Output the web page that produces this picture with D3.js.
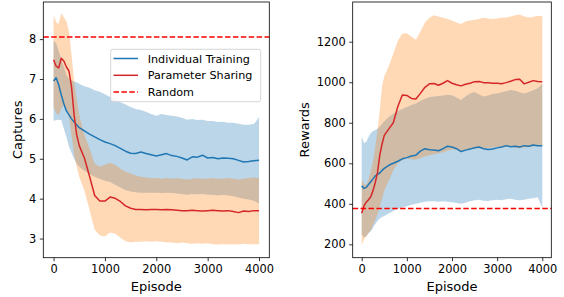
<!DOCTYPE html>
<html>
<head>
<meta charset="utf-8">
<script src="https://cdn.jsdelivr.net/npm/d3@7"></script>
<style>
  body { margin: 0; background: #fff; }
  svg { display: block; font-family: "DejaVu Sans", sans-serif; }
</style>
</head>
<body>
<div id="chart"></div>
<script>
// episodes sampled along the x axis (shared by both panels)
var episodes = [0, 50, 100, 150, 200, 250, 300, 350, 400, 450, 500,
  600, 700, 800, 900, 1000, 1100, 1200, 1300, 1400, 1500, 1600, 1700, 1800, 1900, 2000,
  2100, 2200, 2300, 2400, 2500, 2600, 2700, 2800, 2900, 3000,
  3100, 3200, 3300, 3400, 3500, 3600, 3700, 3800, 3900, 4000];

// left panel: captures
var capIndMean = [6.95, 7.03, 6.85, 6.6, 6.38, 6.2, 6.1, 6.0, 5.92, 5.85, 5.78,
  5.7, 5.62, 5.55, 5.48, 5.42, 5.38, 5.33, 5.26, 5.19, 5.14, 5.13, 5.17, 5.13, 5.1, 5.07,
  5.1, 5.13, 5.08, 5.06, 5.02, 4.97, 5.05, 5.04, 5.09, 5.02,
  5.03, 5.0, 5.02, 5.01, 5.0, 4.96, 4.92, 4.93, 4.95, 4.96];
var capIndUpper = [7.95, 7.9, 7.7, 7.5, 7.3, 7.1, 7.0, 6.96, 6.94, 6.92, 6.88,
  6.82, 6.78, 6.72, 6.68, 6.62, 6.55, 6.5, 6.42, 6.36, 6.3, 6.25, 6.22, 6.18, 6.12, 6.08,
  6.12, 6.1, 6.08, 6.06, 6.03, 5.98, 6.0, 5.97, 5.98, 5.95,
  5.95, 5.92, 5.93, 5.9, 5.9, 5.88, 5.85, 5.85, 5.87, 6.04];
var capIndLower = [5.95, 5.97, 5.98, 5.97, 5.75, 5.55, 5.31, 5.15, 5.0, 4.88, 4.8,
  4.7, 4.62, 4.55, 4.5, 4.45, 4.42, 4.35, 4.28, 4.22, 4.18, 4.16, 4.15, 4.15, 4.15, 4.15,
  4.14, 4.15, 4.14, 4.13, 4.12, 4.1, 4.12, 4.11, 4.12, 4.1,
  4.1, 4.08, 4.1, 4.08, 4.06, 4.03, 4.0, 3.98, 3.95, 3.88];
var capShareMean = [7.48, 7.32, 7.28, 7.52, 7.45, 7.3, 7.2, 6.8, 6.1, 5.6, 5.33,
  5.02, 4.56, 4.08, 3.94, 3.94, 4.04, 4.01, 3.93, 3.82, 3.76, 3.73, 3.73, 3.72, 3.73, 3.73,
  3.72, 3.73, 3.72, 3.71, 3.7, 3.7, 3.71, 3.7, 3.69, 3.7,
  3.71, 3.7, 3.69, 3.7, 3.68, 3.65, 3.69, 3.68, 3.7, 3.7];
var capShareUpper = [8.6, 8.42, 8.38, 8.65, 8.55, 8.45, 8.2, 7.6, 6.95, 6.5, 6.1,
  5.6, 5.25, 4.88, 4.8, 4.85, 4.9, 4.85, 4.75, 4.68, 4.63, 4.58, 4.55, 4.53, 4.52, 4.52,
  4.5, 4.52, 4.5, 4.51, 4.5, 4.48, 4.5, 4.51, 4.5, 4.5,
  4.52, 4.5, 4.5, 4.52, 4.5, 4.48, 4.5, 4.52, 4.53, 4.52];
var capShareLower = [6.3, 6.15, 6.1, 6.25, 6.35, 6.25, 6.05, 5.6, 5.1, 4.8, 4.55,
  4.2, 3.72, 3.22, 3.08, 3.05, 3.15, 3.12, 3.02, 2.93, 2.9, 2.92, 2.92, 2.93, 2.92, 2.93,
  2.92, 2.9, 2.9, 2.88, 2.9, 2.88, 2.87, 2.88, 2.87, 2.88,
  2.86, 2.85, 2.86, 2.85, 2.86, 2.85, 2.87, 2.86, 2.86, 2.86];
var capRandom = 8.05;

// right panel: rewards
var rewIndMean = [489, 476, 481, 495, 509, 523, 538, 545, 552, 565, 575,
  590, 600, 610, 622, 628, 636, 640, 660, 672, 667, 665, 662, 672, 684, 680,
  672, 658, 665, 670, 677, 680, 672, 668, 670, 676,
  680, 687, 682, 684, 680, 687, 684, 690, 686, 686];
var rewIndUpper = [731, 700, 705, 730, 750, 758, 764, 770, 780, 795, 808,
  828, 845, 858, 868, 878, 888, 895, 908, 918, 926, 930, 932, 935, 938, 936,
  925, 912, 930, 945, 952, 940, 930, 935, 942, 945,
  950, 955, 962, 958, 950, 945, 952, 960, 970, 992];
var rewIndLower = [250, 235, 240, 255, 265, 282, 300, 315, 328, 335, 340,
  352, 365, 375, 382, 388, 395, 400, 405, 410, 413, 412, 410, 412, 410, 408,
  404, 400, 405, 412, 418, 420, 415, 414, 418, 420,
  418, 422, 425, 420, 418, 420, 425, 428, 432, 380];
var rewShareMean = [353, 390, 408, 420, 435, 465, 505, 555, 640, 695, 738,
  770, 800, 880, 937, 935, 920, 917, 945, 975, 992, 994, 985, 995, 1008, 995,
  988, 982, 990, 995, 1003, 1004, 998, 997, 995, 995,
  993, 998, 1005, 1013, 1015, 992, 1000, 1008, 1004, 1002];
var rewShareUpper = [520, 500, 490, 520, 560, 610, 680, 760, 860, 980, 1030,
  1080, 1140, 1205, 1240, 1242, 1226, 1210, 1250, 1295, 1318, 1330, 1325, 1318, 1312, 1305,
  1295, 1288, 1300, 1305, 1308, 1312, 1318, 1314, 1312, 1315,
  1320, 1318, 1325, 1330, 1334, 1325, 1320, 1322, 1328, 1326];
var rewShareLower = [195, 225, 240, 255, 270, 295, 320, 350, 385, 425, 465,
  515, 565, 600, 615, 625, 620, 618, 625, 635, 640, 645, 650, 655, 662, 668,
  665, 660, 665, 670, 672, 674, 670, 675, 678, 680,
  678, 680, 683, 676, 674, 678, 680, 683, 685, 685];
var rewRandom = 377;

var xTicks = [0, 1000, 2000, 3000, 4000];
var capTicks = [3, 4, 5, 6, 7, 8];
var rewTicks = [200, 400, 600, 800, 1000, 1200];
var legendLabels = ["Individual Training", "Parameter Sharing", "Random"];

var width = 564, height = 297;
var blue = "#1f77b4", orange = "#ff7f0e", red = "#d62728";

var svg = d3.select("#chart")
  .append("svg")
  .attr("width", width)
  .attr("height", height);

function panel(opts) {
  var x = d3.scaleLinear().domain([-200, 4200]).range([opts.left, opts.right]);
  var y = d3.scaleLinear().domain(opts.yDomain).range([257.7, 2]);
  var g = svg.append("g");

  var area = function(lo, hi) {
    return d3.area()
      .x(function(d, i) { return x(episodes[i]); })
      .y0(function(d, i) { return y(lo[i]); })
      .y1(function(d, i) { return y(hi[i]); })(episodes);
  };
  var line = function(vals) {
    return d3.line()
      .x(function(d, i) { return x(episodes[i]); })
      .y(function(d) { return y(d); })(vals);
  };

  // bands
  g.append("path").attr("d", area(opts.indLo, opts.indHi))
    .attr("fill", blue).attr("fill-opacity", 0.3);
  g.append("path").attr("d", area(opts.shLo, opts.shHi))
    .attr("fill", orange).attr("fill-opacity", 0.3);

  // means
  g.append("path").attr("d", line(opts.indMean))
    .attr("fill", "none").attr("stroke", blue).attr("stroke-width", 1.5)
    .attr("stroke-linejoin", "round");
  g.append("path").attr("d", line(opts.shMean))
    .attr("fill", "none").attr("stroke", red).attr("stroke-width", 1.5)
    .attr("stroke-linejoin", "round");

  // random baseline
  g.append("line")
    .attr("x1", opts.left).attr("x2", opts.right)
    .attr("y1", y(opts.random)).attr("y2", y(opts.random))
    .attr("stroke", "#ff0000").attr("stroke-width", 1.5)
    .attr("stroke-dasharray", "5.5,2.4");

  // axes
  var fmt = d3.format("d");
  var xa = g.append("g")
    .attr("transform", "translate(0,257.7)")
    .call(d3.axisBottom(x).tickValues(xTicks).tickFormat(fmt).tickSize(3.5).tickPadding(3.5));
  var ya = g.append("g")
    .attr("transform", "translate(" + opts.left + ",0)")
    .call(d3.axisLeft(y).tickValues(opts.yTicks).tickFormat(fmt).tickSize(3.5).tickPadding(3.5));
  [xa, ya].forEach(function(a) {
    a.select(".domain").remove();
    a.selectAll(".tick line").attr("stroke", "#000").attr("stroke-width", 0.8);
    a.selectAll(".tick text")
      .attr("fill", "#000")
      .style("font-size", "11.4px")
      .style("font-family", "DejaVu Sans");
  });

  // frame
  g.append("rect")
    .attr("x", opts.left).attr("y", 2)
    .attr("width", opts.right - opts.left).attr("height", 255.7)
    .attr("fill", "none").attr("stroke", "#000").attr("stroke-width", 0.8);

  // labels
  g.append("text")
    .attr("x", (opts.left + opts.right) / 2).attr("y", 291)
    .attr("text-anchor", "middle")
    .style("font-size", "13px")
    .text("Episode");
  g.append("text")
    .attr("transform", "translate(" + (opts.left + opts.labelOffset) + ",129.8) rotate(-90)")
    .attr("text-anchor", "middle")
    .style("font-size", "13px")
    .text(opts.yLabel);

  return g;
}

var left = panel({
  left: 43.3, right: 269.3, yDomain: [2.52, 8.93], yTicks: capTicks,
  indMean: capIndMean, indHi: capIndUpper, indLo: capIndLower,
  shMean: capShareMean, shHi: capShareUpper, shLo: capShareLower,
  random: capRandom, yLabel: "Captures", labelOffset: -21
});

panel({
  left: 352.7, right: 551.3, yDomain: [134, 1396], yTicks: rewTicks,
  indMean: rewIndMean, indHi: rewIndUpper, indLo: rewIndLower,
  shMean: rewShareMean, shHi: rewShareUpper, shLo: rewShareLower,
  random: rewRandom, yLabel: "Rewards", labelOffset: -44
});

// legend on the left panel
var legend = left.append("g");
legend.append("rect")
  .attr("x", 110.7).attr("y", 49.3)
  .attr("width", 150).attr("height", 52.4)
  .attr("rx", 2).attr("ry", 2)
  .attr("fill", "#fff").attr("fill-opacity", 0.8)
  .attr("stroke", "#cccccc").attr("stroke-width", 0.8);

var legendStyles = [
  { color: blue, dash: null },
  { color: red, dash: null },
  { color: "#ff0000", dash: "5.5,2.4" }
];
legendLabels.forEach(function(label, i) {
  var yy = 58.5 + i * 16.8;
  legend.append("line")
    .attr("x1", 113.5).attr("x2", 138)
    .attr("y1", yy).attr("y2", yy)
    .attr("stroke", legendStyles[i].color).attr("stroke-width", 1.5)
    .attr("stroke-dasharray", legendStyles[i].dash);
  legend.append("text")
    .attr("x", 147.7).attr("y", yy)
    .attr("dy", "0.36em")
    .style("font-size", "11.2px")
    .text(label);
});
</script>
</body>
</html>
